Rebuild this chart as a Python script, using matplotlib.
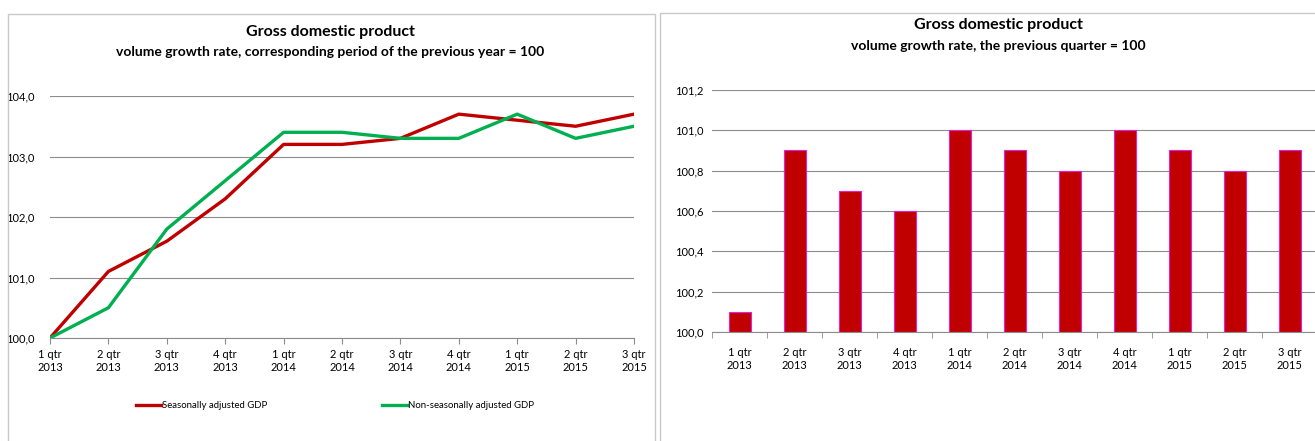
import matplotlib
matplotlib.use("Agg")
from matplotlib import pyplot as plt
from matplotlib.patches import Rectangle
from matplotlib.ticker import FuncFormatter, FixedLocator

# 数据
quarters = ["1 qtr\n2013", "2 qtr\n2013", "3 qtr\n2013", "4 qtr\n2013",
            "1 qtr\n2014", "2 qtr\n2014", "3 qtr\n2014", "4 qtr\n2014",
            "1 qtr\n2015", "2 qtr\n2015", "3 qtr\n2015"]
seasonal = [100.0, 101.1, 101.6, 102.3, 103.2, 103.2, 103.3, 103.7, 103.6, 103.5, 103.7]
non_seasonal = [100.0, 100.5, 101.8, 102.6, 103.4, 103.4, 103.3, 103.3, 103.7, 103.3, 103.5]
prev_quarter = [100.1, 100.9, 100.7, 100.6, 101.0, 100.9, 100.8, 101.0, 100.9, 100.8, 100.9]

plt.rcParams['font.family'] = ['Lato', 'DejaVu Sans']

W, H = 1315, 441
fig = plt.figure(figsize=(W / 100, H / 100), dpi=100)

# 外框
fig.patches.append(Rectangle((8 / W, -0.1), 647 / W, 1 - 14 / H + 0.1, transform=fig.transFigure,
                             fill=False, edgecolor="#c8c8c8", linewidth=1))
fig.patches.append(Rectangle((660 / W, -0.1), 700 / W, 1 - 13 / H + 0.1, transform=fig.transFigure,
                             fill=False, edgecolor="#c8c8c8", linewidth=1))

comma = FuncFormatter(lambda v, p: ("%.1f" % v).replace(".", ","))
grid_c = "#8c8c8c"

# 左图: 折线
ax1 = fig.add_axes([50 / W, 1 - 338 / H, 584 / W, 242 / H])
x = list(range(len(quarters)))
l1, = ax1.plot(x, seasonal, color="#c00000", linewidth=2.4, label="Seasonally adjusted GDP")
l2, = ax1.plot(x, non_seasonal, color="#00b050", linewidth=2.4, label="Non-seasonally adjusted GDP")
ax1.set_xlim(0, len(quarters) - 1)
ax1.set_ylim(100, 104)
ax1.set_yticks([100, 101, 102, 103, 104])
ax1.yaxis.set_major_formatter(comma)
ax1.set_xticks(x)
ax1.set_xticklabels(quarters)
ax1.grid(axis="y", color=grid_c, linewidth=0.8)
ax1.set_axisbelow(True)
for s in ["top", "right", "left"]:
    ax1.spines[s].set_visible(False)
ax1.spines["bottom"].set_color(grid_c)
ax1.tick_params(axis="y", length=0, labelsize=8, pad=11)
ax1.tick_params(axis="x", length=4, color=grid_c, labelsize=8, pad=4)
ax1.legend(handles=[l1, l2], loc="center", bbox_to_anchor=(335 / W, 1 - 406 / H),
           bbox_transform=fig.transFigure, ncol=2, frameon=False, fontsize=6.9,
           handlelength=2.6, handletextpad=0.1, columnspacing=12)

fig.text(330 / W, 1 - 32 / H, "Gross domestic product", ha="center", va="center",
         fontsize=11.5, fontweight="bold")
fig.text(330 / W, 1 - 52 / H, "volume growth rate, corresponding period of the previous year = 100",
         ha="center", va="center", fontsize=10, fontweight="bold")

# 右图: 柱状图
ax2 = fig.add_axes([712 / W, 1 - 332 / H, 605 / W, 242 / H])
ax2.bar(x, [v - 100 for v in prev_quarter], bottom=100, width=0.4,
        color="#c00000", edgecolor="#e020e0", linewidth=0.8)
ax2.set_xlim(-0.5, len(quarters) - 0.5)
ax2.set_ylim(100, 101.2)
ax2.set_yticks([100.0, 100.2, 100.4, 100.6, 100.8, 101.0, 101.2])
ax2.yaxis.set_major_formatter(comma)
ax2.set_xticks(x)
ax2.set_xticklabels(quarters)
ax2.xaxis.set_minor_locator(FixedLocator([i - 0.5 for i in range(len(quarters) + 1)]))
ax2.grid(axis="y", color=grid_c, linewidth=0.8)
ax2.set_axisbelow(True)
for s in ["top", "right", "left"]:
    ax2.spines[s].set_visible(False)
ax2.spines["bottom"].set_color(grid_c)
ax2.tick_params(axis="y", length=0, labelsize=8, pad=6)
ax2.tick_params(axis="x", which="major", length=0, labelsize=8, pad=11)
ax2.tick_params(axis="x", which="minor", length=4, color=grid_c)

fig.text(998 / W, 1 - 25 / H, "Gross domestic product", ha="center", va="center",
         fontsize=11.5, fontweight="bold")
fig.text(998 / W, 1 - 46 / H, "volume growth rate, the previous quarter = 100",
         ha="center", va="center", fontsize=10, fontweight="bold")

plt.savefig("out.png", dpi=100)
